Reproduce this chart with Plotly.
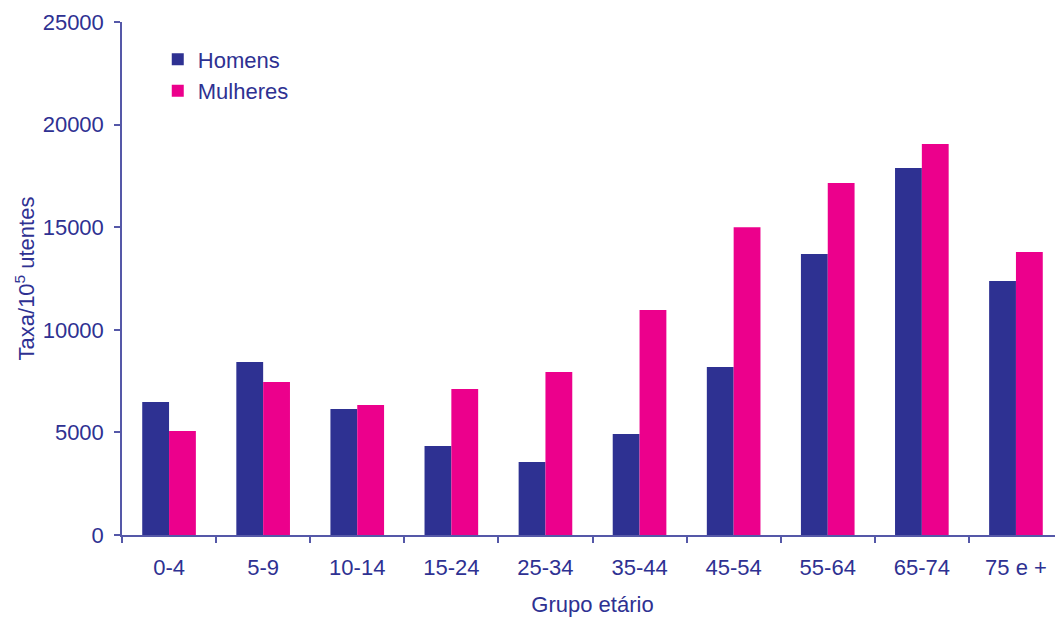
import plotly.graph_objects as go

categories = ["0-4", "5-9", "10-14", "15-24", "25-34", "35-44", "45-54", "55-64", "65-74", "75 e +"]
homens = [6480, 8430, 6140, 4340, 3560, 4920, 8190, 13690, 17880, 12380]
mulheres = [5070, 7460, 6340, 7110, 7940, 10960, 15000, 17150, 19050, 13790]

BLUE = "#2E3192"
PINK = "#EC008C"
TEXT = "#2E3192"
AXIS = "#5558A8"
FONT = "Liberation Sans, Arial, sans-serif"
FS = 22

fig = go.Figure()
fig.add_trace(go.Bar(x=categories, y=homens, name="Homens", marker_color=BLUE,
                     marker_line_width=0, legendgroup="h"))
fig.add_trace(go.Bar(x=categories, y=mulheres, name="Mulheres", marker_color=PINK,
                     marker_line_width=0, legendgroup="m"))

fig.update_layout(
    width=1055, height=609,
    margin=dict(l=114, r=0, t=14, b=82, autoexpand=False),
    paper_bgcolor="white", plot_bgcolor="white",
    font=dict(family=FONT, size=FS, color=TEXT),
    barmode="group", bargap=0.43, bargroupgap=0,
    showlegend=True,
    legend=dict(x=0.038, y=0.968, xanchor="left", yanchor="top",
                bgcolor="rgba(0,0,0,0)", borderwidth=0,
                font=dict(family=FONT, size=FS, color=TEXT),
                tracegroupgap=0, itemwidth=30),
    xaxis=dict(
        type="category", range=[-0.5, 9.5], automargin=False,
        showline=True, linecolor=AXIS, linewidth=1.5,
        ticks="outside", tickson="boundaries", ticklen=6, tickcolor=AXIS, tickwidth=1.5,
        ticklabelstandoff=12,
        showgrid=False, zeroline=False,
        tickfont=dict(family=FONT, size=FS, color=TEXT),
        title=dict(text="Grupo etário", font=dict(family=FONT, size=FS, color=TEXT), standoff=17),
    ),
    yaxis=dict(
        range=[0, 25000], tickvals=[0, 5000, 10000, 15000, 20000, 25000], tickformat="d",
        automargin=False,
        showline=True, linecolor=AXIS, linewidth=1.5,
        ticks="outside", ticklen=6, tickcolor=AXIS, tickwidth=1.5,
        ticklabelstandoff=6,
        showgrid=False, zeroline=False,
        tickfont=dict(family=FONT, size=FS, color=TEXT),
        title=dict(text="Taxa/10<sup>5</sup> utentes", font=dict(family=FONT, size=FS, color=TEXT), standoff=2),
    ),
)

fig.write_html("out.html")
